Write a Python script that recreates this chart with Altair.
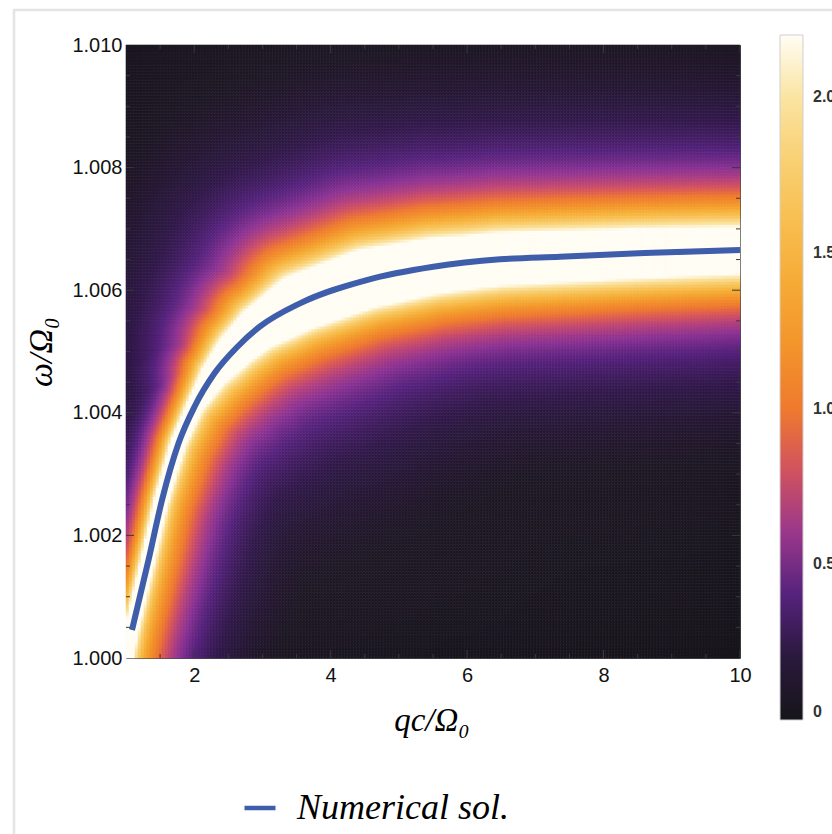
import numpy as np
import pandas as pd
import altair as alt

# ---- blue curve: numerical solution ----
sol_q = [1.088, 1.330, 1.528, 1.770, 2.004, 2.297, 2.634, 2.960, 3.550,
         4.528, 5.504, 6.482, 7.362, 8.600, 10.000]
sol_w = [1.000457, 1.001599, 1.002577, 1.003502, 1.004099, 1.004644, 1.005078,
         1.005405, 1.005786, 1.006166, 1.006383, 1.006504, 1.006546, 1.006605,
         1.006656]

# ridge of the density below the start of the blue curve (read)
ridge_start_q = [0.95, 1.00]
ridge_start_w = [0.99970, 0.99994]

# profile across the ridge, read at positions along q (widths in px)
prof_q = [1.0, 1.5, 2.0, 2.5, 3.5, 4.5, 6.0, 10.0]
core_amp = [1.4, 1.4, 1.2, 0.6, 0.0, 0.0, 0.0, 0.0]    # narrow bright core
core_gam = [9, 9, 10, 14, 16, 16, 16, 16]
amp_in = [1.3, 1.3, 1.55, 2.4, 3.6, 3.7, 3.3, 3.0]     # lower/right shoulder
gam_in = [42, 44, 42, 36, 33, 33, 36, 38]
amp_out = [1.55, 1.55, 1.65, 2.6, 3.6, 3.7, 3.3, 3.0]  # upper/left shoulder
gam_out = [18, 20, 22, 28, 36, 37, 38, 38]
glow_in = [0.0, 0.08, 0.22, 0.33, 0.35, 0.28, 0.15, 0.08]
glow_out = [0.0, 0.0, 0.05, 0.12, 0.15, 0.12, 0.08, 0.06]
glow_width = 120
glow_hole = 60

# colour bar
c_stops = [0, 0.12, 0.25, 0.4, 0.55, 0.7, 0.85, 1.0, 1.25, 1.5, 1.75, 2.0, 2.2]
c_colors = ["#16151a", "#1f1826", "#31194a", "#55227c", "#8a3294", "#b8427a",
            "#dc5a52", "#ef7a2e", "#f49a2a", "#f7b53e", "#f9cb68", "#fbe4a2",
            "#fffdf4"]
legend_values = [0, 0.5, 1.0, 1.5, 2.0]

x_labels = [2, 4, 6, 8, 10]
y_labels = [1.000, 1.002, 1.004, 1.006, 1.008, 1.010]
x_major_ticks = [2, 4, 6, 8, 10]
x_minor_ticks = [1.5, 2.5, 3, 3.5, 4.5, 5, 5.5, 6.5, 7, 7.5, 8.5, 9, 9.5]
y_major_ticks = [1.002, 1.004, 1.006, 1.008]
y_minor_ticks = [1.0005, 1.001, 1.0015, 1.0025, 1.003, 1.0035, 1.0045, 1.005,
                 1.0055, 1.0065, 1.007, 1.0075, 1.0085, 1.009, 1.0095]

W, H = 614, 613
NX, NY = 205, 205

# ---- build density grid ----
xe = np.linspace(1, 10, NX + 1)
ye = np.linspace(1.0, 1.01, NY + 1)
DX, DY = xe[1] - xe[0], ye[1] - ye[0]
xc = (xe[:-1] + xe[1:]) / 2
yc = (ye[:-1] + ye[1:]) / 2
X, Y = np.meshgrid(xc, yc)


def to_px(q, w):
    return (np.asarray(q) - 1) / 9 * W, (1.010 - np.asarray(w)) / 0.010 * H


PX, PY = to_px(X, Y)
rq = np.array(ridge_start_q + sol_q)
rw = np.array(ridge_start_w + sol_w)
RX, RY = to_px(rq, rw)

V = np.zeros(PX.shape)
nseg = len(RX) - 1
for i in range(nseg):
    ax_, ay_, bx_, by_ = RX[i], RY[i], RX[i + 1], RY[i + 1]
    dx, dy = bx_ - ax_, by_ - ay_
    L2 = dx * dx + dy * dy
    t = ((PX - ax_) * dx + (PY - ay_) * dy) / L2
    lo = -np.inf if i == 0 else 0.0
    hi = np.inf if i == nseg - 1 else 1.0
    t = np.clip(t, lo, hi)
    fx, fy = ax_ + t * dx, ay_ + t * dy
    d = np.hypot(PX - fx, PY - fy)
    cross = dx * (PY - ay_) - dy * (PX - ax_)
    qf = np.clip(rq[i] + t * (rq[i + 1] - rq[i]), prof_q[0], prof_q[-1])
    Cc, Gc = np.interp(qf, prof_q, core_amp), np.interp(qf, prof_q, core_gam)
    Ai, Gi = np.interp(qf, prof_q, amp_in), np.interp(qf, prof_q, gam_in)
    Ao, Go = np.interp(qf, prof_q, amp_out), np.interp(qf, prof_q, gam_out)
    Bi, Bo = np.interp(qf, prof_q, glow_in), np.interp(qf, prof_q, glow_out)
    ring = d ** 2 / (d ** 2 + glow_hole ** 2) / (1 + (d / glow_width) ** 2)
    core = Cc / (1 + (d / Gc) ** 2)
    val = core + np.where(cross > 0,
                          Ai / (1 + (d / Gi) ** 2) + Bi * ring,
                          Ao / (1 + (d / Go) ** 2) + Bo * ring)
    V = np.maximum(V, val)

X0, Y0 = np.meshgrid(xe[:-1], ye[:-1])
heat = pd.DataFrame({
    "x": np.round(X0.ravel(), 4),
    "y": np.round(Y0.ravel(), 6),
    "v": np.round(V.ravel(), 3),
})

line_df = pd.DataFrame({"q": sol_q, "w": sol_w, "s": "Numerical sol."})

# ---- scales & axes ----
xs = alt.Scale(domain=[1, 10], nice=False, zero=False)
ys = alt.Scale(domain=[1.0, 1.01], nice=False, zero=False)
cscale = alt.Scale(domain=c_stops, range=c_colors, clamp=True, interpolate="rgb")

x_axis = alt.Axis(values=x_labels, title="qc/Ω₀", grid=False, ticks=False, domain=False,
                  labelFont="Liberation Sans", labelFontSize=20, labelColor="#111",
                  labelPadding=7, labelFlush=False, labelOverlap=False,
                  titleFont="Liberation Serif", titleFontStyle="italic",
                  titleFontWeight="normal", titleFontSize=33, titleColor="#000",
                  titleX=305.5, titleY=72, titleBaseline="alphabetic", titleAlign="center")
y_axis = alt.Axis(values=y_labels, format=".3f", title="ω/Ω₀", grid=False, ticks=False,
                  domain=False, labelFont="Liberation Sans", labelFontSize=20,
                  labelColor="#111", labelPadding=4, labelFlush=False, labelOverlap=False,
                  titleFont="Liberation Serif", titleFontStyle="italic",
                  titleFontWeight="normal", titleFontSize=34, titleColor="#000",
                  titleAngle=270, titleX=-84.5, titleY=306.5, titleBaseline="middle",
                  titleAlign="center")

heat_layer = alt.Chart(heat).transform_calculate(
    x2=f"datum.x + {DX}", y2=f"datum.y + {DY}"
).mark_rect(strokeWidth=0.6).encode(
    x=alt.X("x:Q", scale=xs, axis=x_axis),
    x2="x2:Q",
    y=alt.Y("y:Q", scale=ys, axis=y_axis),
    y2="y2:Q",
    color=alt.Color("v:Q", scale=cscale, legend=alt.Legend(
        orient="none", legendX=654, legendY=-10, direction="vertical", title=None,
        gradientLength=685, gradientThickness=23, values=legend_values,
        labelExpr="datum.value == 0 ? '0' : format(datum.value, '.1f')",
        labelFont="Liberation Sans", labelFontSize=16, labelFontWeight="bold",
        labelColor="#333", labelOffset=10, labelBaseline="middle", labelOverlap=False,
        gradientStrokeColor="#cfcfcf", gradientStrokeWidth=1, padding=0)),
    stroke=alt.Stroke("v:Q", scale=cscale, legend=None),
)

line_layer = alt.Chart(line_df).mark_line(
    strokeWidth=6, strokeCap="butt", interpolate="monotone").encode(
    x=alt.X("q:Q", scale=xs, axis=x_axis),
    y=alt.Y("w:Q", scale=ys, axis=y_axis),
    color=alt.Color("s:N", scale=alt.Scale(domain=["Numerical sol."], range=["#3e5dab"]),
                    legend=alt.Legend(orient="none", legendX=116, legendY=745, title=None,
                                      symbolType="stroke", symbolStrokeWidth=4.5,
                                      symbolSize=961, labelFont="Liberation Serif",
                                      labelFontStyle="italic", labelFontSize=36,
                                      labelColor="#000", labelOffset=19, labelLimit=0,
                                      padding=0)),
)

# inward frame ticks
tick_color = "#3a3a3a"


def y_ticks(vals, length, right):
    x0 = W - length if right else 0
    return alt.Chart(pd.DataFrame({"t": vals})).mark_rule(
        color=tick_color, strokeWidth=1).encode(
        y=alt.Y("t:Q", scale=ys, axis=y_axis),
        x=alt.value(x0), x2=alt.value(x0 + length))


def x_ticks(vals, length, top):
    y0 = 0 if top else H - length
    return alt.Chart(pd.DataFrame({"t": vals})).mark_rule(
        color=tick_color, strokeWidth=1).encode(
        x=alt.X("t:Q", scale=xs, axis=x_axis),
        y=alt.value(y0), y2=alt.value(y0 + length))


tick_layers = [
    y_ticks(y_major_ticks, 8, False), y_ticks(y_minor_ticks, 4, False),
    y_ticks(y_major_ticks, 8, True), y_ticks(y_minor_ticks, 4, True),
    x_ticks(x_major_ticks, 8, False), x_ticks(x_minor_ticks, 4, False),
    x_ticks(x_major_ticks, 8, True), x_ticks(x_minor_ticks, 4, True),
]

frame = alt.Chart(pd.DataFrame({"a": [0]})).mark_rect(
    filled=False, stroke="#e4e4e4", strokeWidth=2.5).encode(
    x=alt.value(-112), x2=alt.value(900), y=alt.value(-35), y2=alt.value(900))

chart = alt.layer(frame, heat_layer, line_layer, *tick_layers).resolve_scale(
    color="independent").resolve_legend(color="independent").properties(
    width=W, height=H,
    autosize=alt.AutoSizeParams(type="none"),
    padding={"left": 126, "top": 45, "right": 92, "bottom": 176},
    background="white",
).configure_view(stroke="#4a4a4a", strokeWidth=1)

chart.save("out.html", embed_options={"renderer": "svg", "actions": False})
